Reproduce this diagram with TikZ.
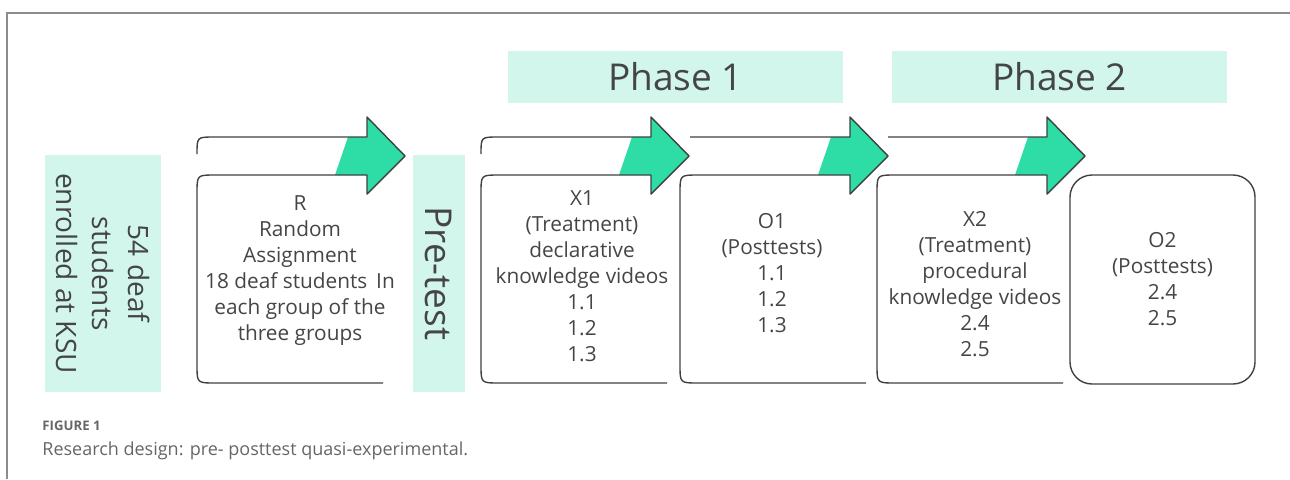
\documentclass[tikz,border=0pt]{standalone}
\usepackage{fontspec}
\setmainfont{Open Sans}
\usetikzlibrary{positioning}
\definecolor{mint}{HTML}{D2F6EC}
\definecolor{jade}{HTML}{2EDDA6}
\definecolor{ink}{HTML}{454545}

\begin{document}
\begin{tikzpicture}[x=0.5pt,y=-0.5pt,font=\fontsize{10.4}{13}\selectfont,
 band/.style={fill=mint,inner sep=0pt,text=ink},
 stage/.style={align=center,text=ink},
 flow/.style={draw=black!75,line width=0.7pt,line join=round}]
\useasboundingbox (0,0) rectangle (1290,479);
\draw[black!45,line width=0.6pt] (1290,13) -- (7,13) -- (7,479);
% side bands
\node[band,rotate=-90,minimum width=118.5pt,minimum height=58pt,align=center,
 font=\fontsize{14}{18}\selectfont] (pool) at (103,273.5) {54 deaf\\students\\enrolled at KSU};
\node[band,rotate=-90,minimum width=118.5pt,minimum height=26pt,
 font=\fontsize{18.5}{20}\selectfont] (pretest) at (439,273.5) {Pre-test};
\node[band,minimum width=167.5pt,minimum height=26pt,font=\fontsize{18.5}{22}\selectfont] (phase1) at (675.5,77) {Phase 1};
\node[band,minimum width=167.5pt,minimum height=26pt,font=\fontsize{18.5}{22}\selectfont] (phase2) at (1059.5,77) {Phase 2};
% bent process arrows
\foreach \l/\s/\r in {197/197/17,481/481/17,680/690/0,877/888/0}{
 \fill[jade] (\l+138,175) -- (\l+170,175) -- (\l+170,194) -- (\l+208,156) -- (\l+170,117) -- (\l+170,137) -- (\l+151,137) -- cycle;
 \draw[flow] (\l+186,383) -- (\l+18,383) .. controls (\l,383) .. (\l,365) -- (\l,193) .. controls (\l,175) .. (\l+18,175)
  -- (\l+170,175) -- (\l+170,194) -- (\l+208,156) -- (\l+170,117) -- (\l+170,137) -- (\s+\r,137) .. controls (\s,137) .. (\s,137+\r);
}
\node[stage] (rand) at (300,271) {R\\Random\\Assignment\\18 deaf students\, In\\each group of the\\three groups};
\node[stage] (treat1) at (582,276) {X1\\(Treatment)\\declarative\\knowledge videos\\1.1\\1.2\\1.3};
\node[stage] (post1) at (772,273) {O1\\(Posttests)\\1.1\\1.2\\1.3};
\node[stage] (treat2) at (975,284) {X2\\(Treatment)\\procedural\\knowledge videos\\2.4\\2.5};
\node[stage,draw=black!75,line width=0.7pt,rounded corners=11pt,minimum width=92.5pt,minimum height=104.5pt] (post2) at (1162.5,279.5) {O2\\(Posttests)\\2.4\\2.5};
% caption
\node[anchor=base west,inner sep=0pt,text=black!60,font=\fontsize{6.6}{7}\selectfont\bfseries] (fig) at (42,430) {FIGURE 1};
\node[anchor=base west,inner sep=0pt,text=black!60,font=\fontsize{9}{10}\selectfont] (cap) at (42,455) {Research design: pre- posttest quasi-experimental.};
\end{tikzpicture}
\end{document}
